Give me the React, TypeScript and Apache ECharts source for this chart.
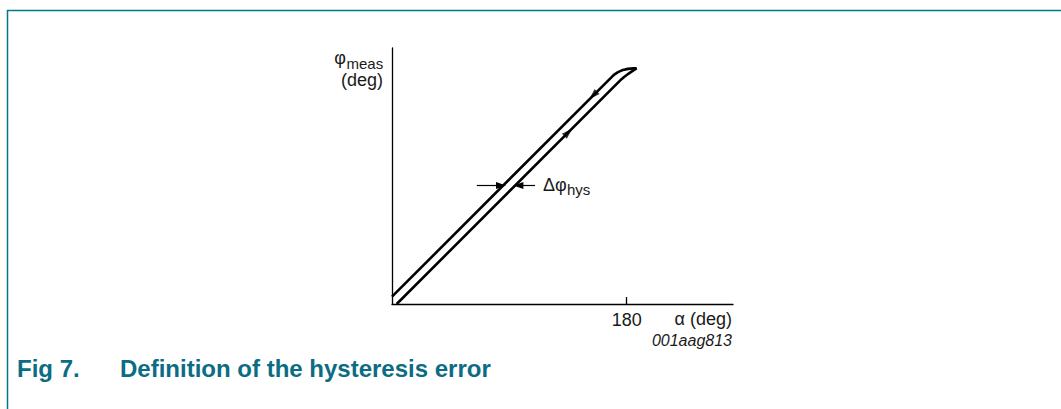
import React, { useEffect, useRef } from "react";
import * as echarts from "echarts";

// x axis: angle alpha in degrees; y axis: measured angle in degrees (same scale)
const xTickValues = [180];
const xMax = 261.5;
const yMax = 196.3;

// decreasing branch (upper line, traversed downwards)
const upperBranch: [number, number][] = [
  [0, 5.6], [169, 174.6], [171, 176.3], [173, 177.6], [175, 178.6], [177, 179.4],
  [179, 179.9], [181, 180.3], [183, 180.5], [185, 180.7], [187.6, 180.8],
];
// increasing branch (lower line, traversed upwards)
const lowerBranch: [number, number][] = [
  [3.6, 0], [176, 172.4], [178, 174.1], [180, 175.6], [182, 177], [184, 178.4],
  [186, 179.7], [187.6, 180.8],
];
// direction arrows on the branches: [x, y, rotation]
const directionArrows: [number, number, number][] = [
  [154.3, 159.9, 135],
  [135.2, 131.6, -45],
];
// hysteresis width indicator arrows (start -> tip)
const hysArrowLeft: [number, number][] = [[65, 90.9], [83.6, 90.9]];
const hysArrowRight: [number, number][] = [[109.7, 90.9], [96.9, 90.9]];

const FONT = "'Liberation Sans', Arial, Helvetica, sans-serif";
const TEAL = "#00788a";

export default function App() {
  const ref = useRef<HTMLDivElement>(null);
  useEffect(() => {
    if (!ref.current) return;
    const chart = echarts.init(ref.current, null, { renderer: "svg" });
    chart.setOption({
      animation: false,
      backgroundColor: "#ffffff",
      grid: { left: 392, top: 48, width: 341, height: 256 },
      xAxis: {
        type: "value",
        min: 0,
        max: xMax,
        axisLine: { show: true, lineStyle: { color: "#000", width: 1.3 } },
        axisTick: {
          show: true,
          inside: true,
          length: 7,
          customValues: xTickValues,
          lineStyle: { color: "#000", width: 1.3 },
        },
        axisLabel: {
          show: true,
          customValues: xTickValues,
          formatter: (v: number) => String(v),
          color: "#1a1a1a",
          fontSize: 18,
          fontFamily: FONT,
          margin: 7,
        },
        splitLine: { show: false },
      },
      yAxis: {
        type: "value",
        min: 0,
        max: yMax,
        axisLine: { show: true, lineStyle: { color: "#000", width: 1.3 } },
        axisTick: { show: false },
        axisLabel: { show: false },
        splitLine: { show: false },
      },
      series: [
        {
          type: "line",
          data: upperBranch,
          symbol: "none",
          lineStyle: { color: "#000", width: 2.6 },
          silent: true,
        },
        {
          type: "line",
          data: lowerBranch,
          symbol: "none",
          lineStyle: { color: "#000", width: 2.6 },
          silent: true,
        },
        {
          type: "scatter",
          data: directionArrows.map((a) => ({
            value: [a[0], a[1]],
            symbolRotate: a[2],
          })),
          symbol: "triangle",
          symbolSize: [7, 11],
          itemStyle: { color: "#000" },
          silent: true,
        },
        {
          type: "line",
          data: [],
          markLine: {
            silent: true,
            symbol: ["none", "triangle"],
            symbolSize: [7, 10],
            label: { show: false },
            lineStyle: { color: "#000", width: 1.2, type: "solid" },
            data: [
              [{ coord: hysArrowLeft[0] }, { coord: hysArrowLeft[1] }],
              [{ coord: hysArrowRight[0] }, { coord: hysArrowRight[1] }],
            ],
          },
        },
      ],
      graphic: [
        {
          type: "line",
          shape: { x1: 7, y1: 10.5, x2: 1061, y2: 10.5 },
          style: { stroke: TEAL, lineWidth: 1.5 },
        },
        {
          type: "line",
          shape: { x1: 7.5, y1: 10, x2: 7.5, y2: 409 },
          style: { stroke: TEAL, lineWidth: 1.5 },
        },
        {
          type: "text",
          x: 346,
          y: 58,
          style: { text: "φ", fontSize: 18, fontFamily: FONT, fill: "#1a1a1a", align: "right", verticalAlign: "middle" },
        },
        {
          type: "text",
          x: 346.5,
          y: 63,
          style: { text: "meas", fontSize: 15, fontFamily: FONT, fill: "#1a1a1a", align: "left", verticalAlign: "middle" },
        },
        {
          type: "text",
          x: 383,
          y: 80,
          style: { text: "(deg)", fontSize: 18, fontFamily: FONT, fill: "#1a1a1a", align: "right", verticalAlign: "middle" },
        },
        {
          type: "text",
          x: 543,
          y: 185,
          style: { text: "Δφ", fontSize: 18, fontFamily: FONT, fill: "#1a1a1a", align: "left", verticalAlign: "middle" },
        },
        {
          type: "text",
          x: 567,
          y: 189,
          style: { text: "hys", fontSize: 15, fontFamily: FONT, fill: "#1a1a1a", align: "left", verticalAlign: "middle" },
        },
        {
          type: "text",
          x: 732,
          y: 319,
          style: { text: "α (deg)", fontSize: 18, fontFamily: FONT, fill: "#1a1a1a", align: "right", verticalAlign: "middle" },
        },
        {
          type: "text",
          x: 732,
          y: 340,
          style: { text: "001aag813", fontSize: 16, fontStyle: "italic", fontFamily: FONT, fill: "#1a1a1a", align: "right", verticalAlign: "middle" },
        },
        {
          type: "text",
          x: 17,
          y: 368,
          style: { text: "Fig 7.", fontSize: 24, fontWeight: "bold", fontFamily: FONT, fill: "#0b6c84", align: "left", verticalAlign: "middle" },
        },
        {
          type: "text",
          x: 120,
          y: 368,
          style: { text: "Definition of the hysteresis error", fontSize: 24, fontWeight: "bold", fontFamily: FONT, fill: "#0b6c84", align: "left", verticalAlign: "middle" },
        },
      ],
    });
    return () => chart.dispose();
  }, []);
  return (
    <div
      ref={ref}
      style={{ position: "fixed", left: 0, top: 0, width: 1061, height: 409, background: "#fff" }}
    />
  );
}
